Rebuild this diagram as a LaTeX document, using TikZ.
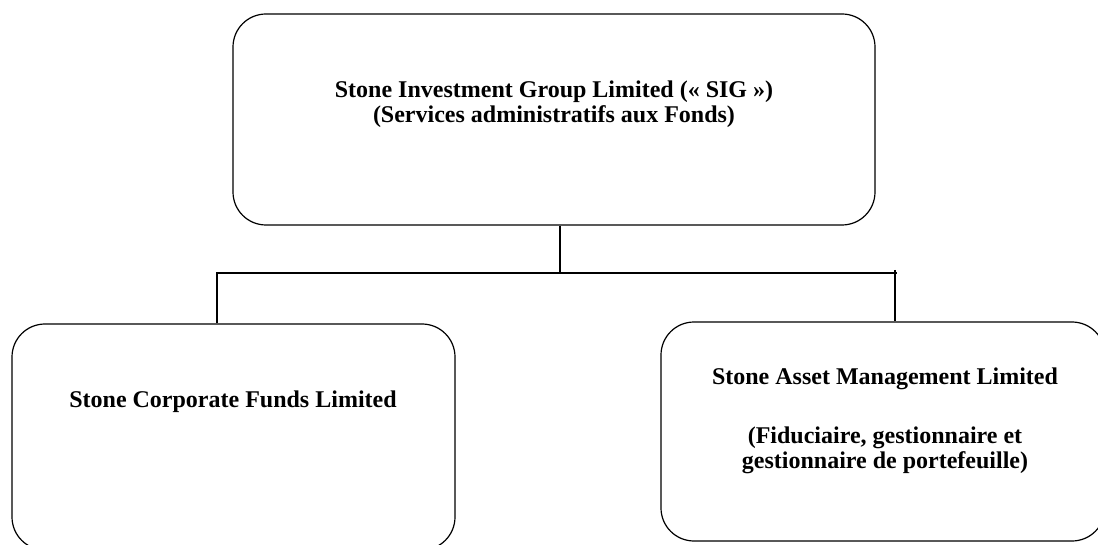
\documentclass[tikz,border=0pt]{standalone}
\usepackage{fontspec}
\setmainfont{Liberation Serif}
\usetikzlibrary{positioning,calc}

\begin{document}
\begin{tikzpicture}[
  x=1pt, y=-1pt,
  font=\fontsize{24}{25}\selectfont\bfseries,
  org/.style = {draw=black, line width=1.2pt, rounded corners=33pt, fill=white, inner sep=0pt},
  txt/.style = {align=center, inner sep=0pt, text=black},
  ln/.style  = {draw=black, line width=1.2pt},
]
\useasboundingbox (0,0) rectangle (1098,545);

% --- the parent company ---------------------------------------------------------------------------
\node[org, minimum width=642pt, minimum height=211pt] (sig) at (554,119.5) {};
\node[txt] (sigtxt) at (554,104)
  {Stone Investment Group Limited (« SIG »)\\(Services administratifs aux Fonds)};

% --- the two subsidiaries -------------------------------------------------------------------------
\node[org, minimum width=443pt, minimum height=226pt] (scf) at (233.5,437) {};
\node[txt, anchor=base] (scftxt) at (233,407) {Stone Corporate Funds Limited};

\node[org, minimum width=444pt, minimum height=219pt] (sam) at (883,431.5) {};
\node[txt] (samtxt) at (885,421)
  {Stone Asset Management Limited\\[34pt](Fiduciaire, gestionnaire et\\gestionnaire de portefeuille)};

% --- the tree between them ------------------------------------------------------------------------
\coordinate (busL) at (217,273);
\coordinate (busR) at (897,273);
\draw[ln] ([xshift=6pt]sig.south) -- ([xshift=6pt]sig.south |- busL);
\draw[ln] (busL |- scf.north) -- (busL) -- (busR);
\draw[ln] ([xshift=-2pt,yshift=3pt]busR) -- ([xshift=-2pt]busR |- sam.north);

\end{tikzpicture}
\end{document}
